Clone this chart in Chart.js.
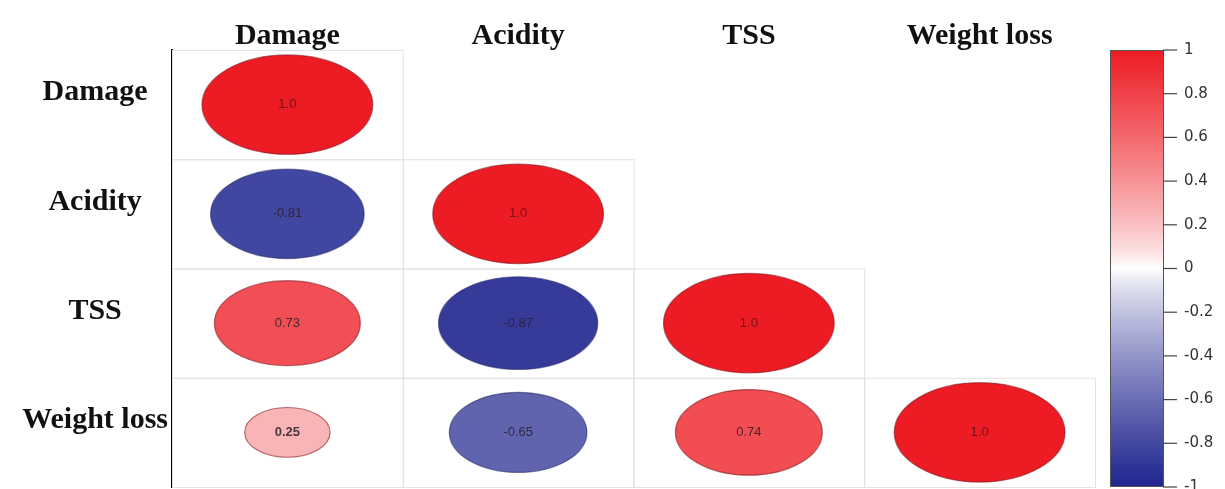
<!DOCTYPE html>
<html>
<head>
<meta charset="utf-8">
<script src="https://cdn.jsdelivr.net/npm/chart.js@4/dist/chart.umd.min.js"></script>
<style>
    html, body { margin: 0; padding: 0; background: #fff; overflow: hidden; }
    canvas { display: block; }
</style>
</head>
<body>
<canvas id="corrChart" width="1225" height="489" style="width:1225px;height:489px"></canvas>
<script>
// variables (row / column names)
const variables = ['Damage', 'Acidity', 'TSS', 'Weight loss'];

// lower triangle of the correlation matrix, one array per column (from the diagonal down)
const damageCorr = [1.0, -0.81, 0.73, 0.25];
const acidityCorr = [1.0, -0.87, -0.65];
const tssCorr = [1.0, 0.74];
const weightLossCorr = [1.0];

// colour bar ticks
const colorbarTicks = [1, 0.8, 0.6, 0.4, 0.2, 0, -0.2, -0.4, -0.6, -0.8, -1];

const columns = [damageCorr, acidityCorr, tssCorr, weightLossCorr];
const points = [];
columns.forEach((col, j) => {
    col.forEach((v, k) => {
        points.push({ x: variables[j], y: variables[j + k], v: v });
    });
});

const posColor = [237, 28, 36];
const negColor = [30, 36, 142];

function corrColor(v) {
    const c = v >= 0 ? posColor : negColor;
    const t = Math.pow(Math.min(1, Math.abs(v)), 0.8);
    const rgb = c.map(ch => Math.round(255 + (ch - 255) * t));
    return `rgb(${rgb.join(',')})`;
}

const corrPlot = {
    id: 'corrPlot',
    beforeDatasetsDraw(chart) {
        const { ctx, scales: { x, y, cb } } = chart;
        const cw = x.getPixelForValue(1) - x.getPixelForValue(0);
        const chh = y.getPixelForValue(1) - y.getPixelForValue(0);
        const meta = chart.getDatasetMeta(0);

        // cell borders
        ctx.save();
        ctx.strokeStyle = '#e2e2e2';
        ctx.lineWidth = 1;
        meta.data.forEach(el => {
            ctx.strokeRect(el.x - cw / 2 + 0.5, el.y - chh / 2 + 0.5, cw, chh);
        });

        // ellipses
        meta.data.forEach((el, i) => {
            const v = points[i].v;
            const s = Math.sqrt(Math.abs(v));
            const rx = cw * 0.37 * s;
            const ry = chh * 0.455 * s;
            ctx.beginPath();
            ctx.ellipse(el.x, el.y, rx, ry, 0, 0, Math.PI * 2);
            ctx.fillStyle = corrColor(v);
            ctx.fill();
            ctx.lineWidth = 1.2;
            ctx.strokeStyle = v >= 0 ? 'rgba(120,10,15,0.55)' : 'rgba(20,25,90,0.5)';
            ctx.stroke();

            ctx.fillStyle = Math.abs(v) > 0.9 ? 'rgba(70,10,20,0.7)' : 'rgba(40,30,40,0.85)';
            ctx.font = (Math.abs(v) < 0.5 ? 'bold ' : '') + '13px "Liberation Sans", Arial, sans-serif';
            ctx.textAlign = 'center';
            ctx.textBaseline = 'middle';
            ctx.fillText(v === 1 ? '1.0' : v.toFixed(2), el.x, el.y);
        });

        // colour bar
        const top = cb.getPixelForValue(1);
        const bottom = cb.getPixelForValue(-1);
        const bx = cb.left + 15;
        const bw = 53;
        const grad = ctx.createLinearGradient(0, top, 0, bottom);
        for (let k = 0; k <= 40; k++) {
            const v = 1 - k / 20;
            grad.addColorStop(k / 40, corrColor(v));
        }
        ctx.fillStyle = grad;
        ctx.fillRect(bx, top, bw, bottom - top);
        ctx.strokeStyle = '#555';
        ctx.lineWidth = 1;
        ctx.strokeRect(bx + 0.5, top + 0.5, bw, bottom - top - 1);
        ctx.strokeStyle = '#444';
        ctx.lineWidth = 1.2;
        colorbarTicks.forEach(t => {
            const py = cb.getPixelForValue(t);
            ctx.beginPath();
            ctx.moveTo(bx + bw, py);
            ctx.lineTo(bx + bw + 14, py);
            ctx.stroke();
        });
        ctx.restore();
    }
};

const labelFont = { family: '"Liberation Serif", "Times New Roman", serif', size: 30, weight: 'bold' };

new Chart(document.getElementById('corrChart'), {
    type: 'scatter',
    data: {
        datasets: [{
            data: points,
            pointRadius: 0,
            pointHoverRadius: 0
        }]
    },
    options: {
        responsive: false,
        devicePixelRatio: 1,
        animation: false,
        layout: { padding: { top: 0, bottom: 2, left: 0, right: 0 } },
        plugins: {
            legend: { display: false },
            tooltip: { enabled: false }
        },
        scales: {
            x: {
                type: 'category',
                labels: variables,
                position: 'top',
                offset: true,
                grid: { display: false, drawTicks: false },
                border: { display: false },
                ticks: { font: labelFont, color: '#111', padding: -4 },
                afterFit: s => { s.height = 50; }
            },
            y: {
                type: 'category',
                labels: variables,
                position: 'left',
                offset: true,
                grid: { display: false, drawTicks: false },
                border: { display: true, color: '#000', width: 2 },
                ticks: { font: labelFont, color: '#111', padding: 4, crossAlign: 'center', labelOffset: -12 },
                afterFit: s => { s.width = 172; s.paddingTop = 0; s.paddingBottom = 0; }
            },
            cb: {
                type: 'linear',
                position: 'right',
                min: -1,
                max: 1,
                grid: { display: false, drawTicks: true, tickLength: 74 },
                border: { display: false },
                afterBuildTicks: s => { s.ticks = colorbarTicks.map(v => ({ value: v })); },
                ticks: {
                    padding: 15,
                    color: '#333',
                    font: { family: '"DejaVu Sans", Verdana, sans-serif', size: 15 },
                    callback: v => Number(v.toFixed(1)).toString()
                },
                afterFit: s => { s.width = 130; s.paddingTop = 0; s.paddingBottom = 0; }
            }
        }
    },
    plugins: [corrPlot]
});
</script>
</body>
</html>
